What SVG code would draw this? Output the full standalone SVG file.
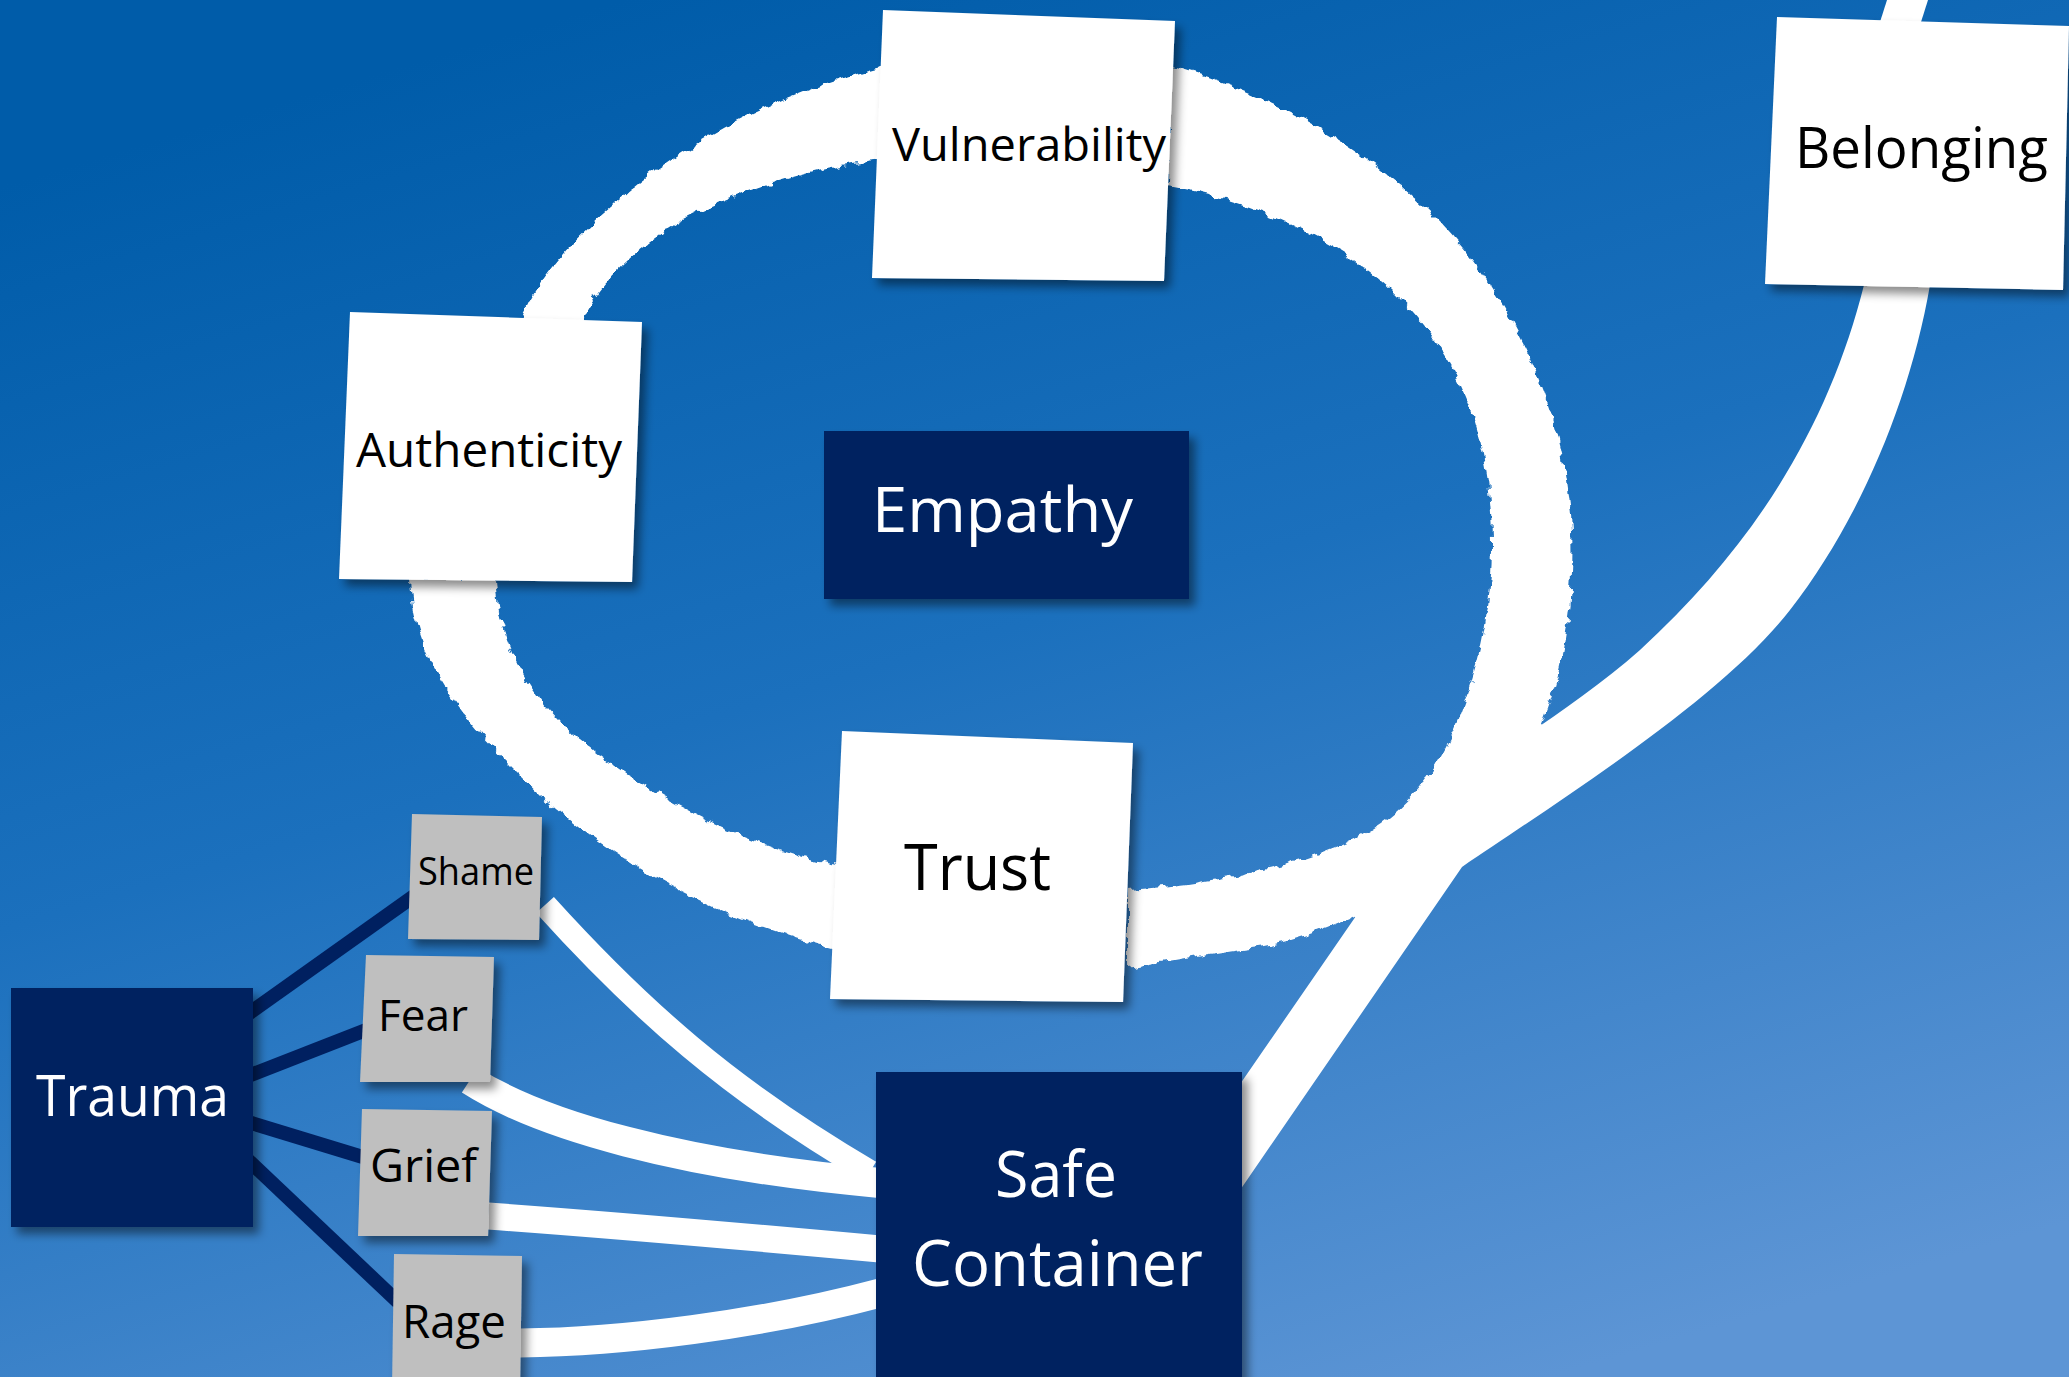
<svg xmlns="http://www.w3.org/2000/svg" width="2069" height="1377" viewBox="0 0 2069 1377">
<defs>
<linearGradient id="bg" x1="0.3" y1="0" x2="0.75" y2="1">
<stop offset="0" stop-color="#005ca9"/>
<stop offset="0.45" stop-color="#1b70bd"/>
<stop offset="1" stop-color="#5d95d5"/>
</linearGradient>
<filter id="rough" x="-5%" y="-5%" width="110%" height="110%">
<feTurbulence type="fractalNoise" baseFrequency="0.09" numOctaves="2" seed="4" result="n"/>
<feDisplacementMap in="SourceGraphic" in2="n" scale="10" xChannelSelector="R" yChannelSelector="G"/>
</filter>
<filter id="shadow" x="-10%" y="-10%" width="125%" height="125%">
<feDropShadow dx="6" dy="7" stdDeviation="5" flood-color="#000" flood-opacity="0.45"/>
</filter>
<style>
.brush{fill:#fff}
.link{fill:none;stroke:#fff;stroke-linecap:butt}
.tie{stroke:#002060;stroke-width:14}
.white{fill:#fff;filter:url(#shadow)}
.navy{fill:#002060;filter:url(#shadow)}
.gray{fill:#bfbfbf;filter:url(#shadow)}
text{font-family:"Open Sans","Liberation Sans",sans-serif}
.dk{fill:#000}
.lt{fill:#fff}
</style>
</defs>
<rect x="0" y="0" width="2069" height="1377" fill="url(#bg)"/>

<g id="connectors">
<g filter="url(#rough)">
<path class="brush" d="M520,322 C540,270 590,220 657,170 C720,125 800,88 885,66 L885,160 C820,165 740,190 681,221 C640,245 600,280 582,322 Z"/>
<path class="brush" d="M410,578 C412,660 470,730 540,795 C600,850 700,915 840,950 L840,866 C740,845 640,790 580,740 C530,700 497,640 495,578 Z"/>
<path class="brush" d="M1170,66 C1290,100 1420,170 1500,300 C1560,400 1580,500 1570,600 C1562,680 1545,720 1530,750 L1440,880 L1370,908 C1330,930 1280,945 1250,948 C1200,955 1160,962 1128,968 L1128,890 C1200,885 1280,870 1330,850 C1400,825 1440,775 1465,700 C1495,620 1500,520 1480,440 C1465,370 1410,290 1330,245 C1270,210 1220,195 1168,186 Z"/>
</g>
<path class="brush" d="M1864,285 C1830,420 1760,540 1640,650 C1570,712 1480,762 1436,800 L1236,1090 L1236,1196 L1462,867 C1560,800 1720,700 1790,610 C1860,520 1910,400 1930,285 Z"/>
<path class="brush" d="M1880,22 L1887,0 L1928,0 L1921,22 Z"/>
<path class="link" stroke-width="24" d="M545,905 C640,1010 730,1090 870,1172"/>
<path class="link" stroke-width="30" d="M470,1080 C540,1125 680,1165 880,1183"/>
<path class="link" stroke-width="27" d="M488,1216 C600,1224 760,1238 880,1249"/>
<path class="link" stroke-width="29" d="M520,1343 C620,1342 760,1325 880,1293"/>
<line class="tie" x1="248" y1="1014" x2="414" y2="896"/>
<line class="tie" x1="248" y1="1076" x2="366" y2="1030"/>
<line class="tie" x1="248" y1="1122" x2="366" y2="1158"/>
<line class="tie" x1="248" y1="1160" x2="398" y2="1302"/>
</g>

<g id="vulnerability">
<polygon class="white" points="883,10 1175,21 1164,281 872,278"/>
<text class="dk" x="892" y="161" font-size="46" textLength="274" lengthAdjust="spacingAndGlyphs">Vulnerability</text>
</g>
<g id="belonging">
<polygon class="white" points="1777,17 2069,26 2063,290 1765,284"/>
<text class="dk" x="1795" y="168" font-size="57" textLength="253" lengthAdjust="spacingAndGlyphs">Belonging</text>
</g>
<g id="authenticity">
<polygon class="white" points="350,312 642,322 632,582 339,579"/>
<text class="dk" x="356" y="467" font-size="47" textLength="266" lengthAdjust="spacingAndGlyphs">Authenticity</text>
</g>
<g id="empathy">
<rect class="navy" x="824" y="431" width="365" height="168"/>
<text class="lt" x="872" y="532" font-size="63" textLength="261" lengthAdjust="spacingAndGlyphs">Empathy</text>
</g>
<g id="trust">
<polygon class="white" points="842,731 1133,743 1123,1002 830,999"/>
<text class="dk" x="904" y="890" font-size="64" textLength="147" lengthAdjust="spacingAndGlyphs">Trust</text>
</g>
<g id="safe-container">
<rect class="navy" x="876" y="1072" width="366" height="320"/>
<text class="lt" x="995" y="1197" font-size="64" textLength="122" lengthAdjust="spacingAndGlyphs">Safe</text>
<text class="lt" x="912" y="1286" font-size="64" textLength="291" lengthAdjust="spacingAndGlyphs">Container</text>
</g>
<g id="trauma">
<rect class="navy" x="11" y="988" width="242" height="239"/>
<text class="lt" x="36" y="1116" font-size="56" textLength="193" lengthAdjust="spacingAndGlyphs">Trauma</text>
</g>
<g id="shame">
<polygon class="gray" points="412,814 542,817 539,940 408,939"/>
<text class="dk" x="418" y="885" font-size="38" textLength="116" lengthAdjust="spacingAndGlyphs">Shame</text>
</g>
<g id="fear">
<polygon class="gray" points="366,955 494,957 490,1082 360,1082"/>
<text class="dk" x="378" y="1031" font-size="44" textLength="90" lengthAdjust="spacingAndGlyphs">Fear</text>
</g>
<g id="grief">
<polygon class="gray" points="362,1109 492,1111 488,1236 358,1236"/>
<text class="dk" x="370" y="1182" font-size="45" textLength="107" lengthAdjust="spacingAndGlyphs">Grief</text>
</g>
<g id="rage">
<polygon class="gray" points="394,1254 522,1256 520,1390 392,1390"/>
<text class="dk" x="402" y="1338" font-size="45" textLength="104" lengthAdjust="spacingAndGlyphs">Rage</text>
</g>
</svg>
